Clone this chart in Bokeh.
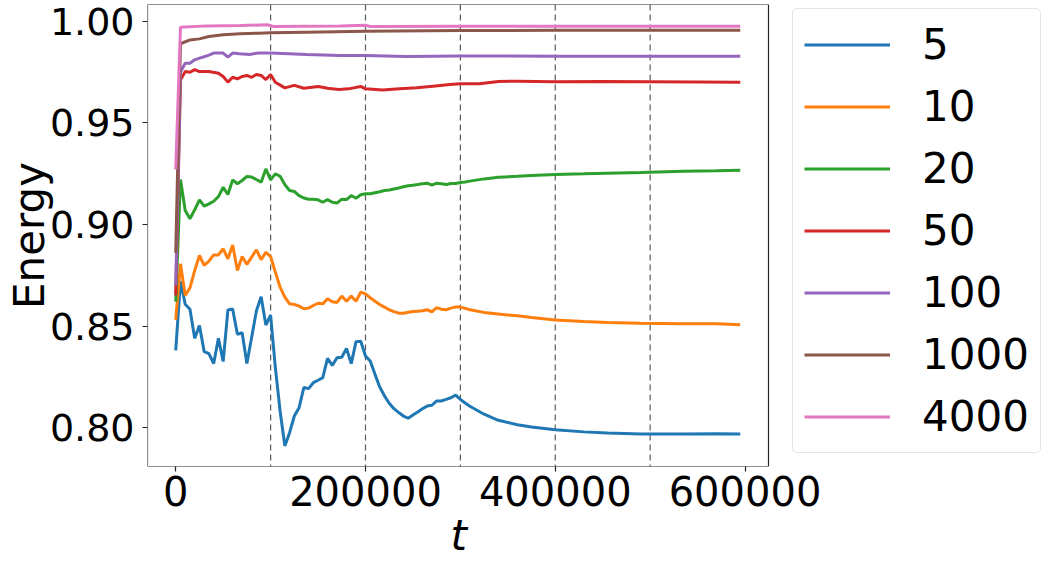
from bokeh.plotting import figure
from bokeh.models import (Range1d, FixedTicker, PrintfTickFormatter, Span,
                          Legend, LegendItem, BoxAnnotation, Title)
from bokeh.embed import file_html
from bokeh.resources import INLINE

# ---------------- data ----------------
sizes = ["5", "10", "20", "50", "100", "1000", "4000"]
colors = ["#1f77b4", "#ff7f0e", "#2ca02c", "#d62728", "#9467bd", "#8c564b", "#e377c2"]

t_fine = list(range(0, 315000, 5000))
t_tail = [325000, 340000, 360000, 375000, 400000, 430000, 455000, 490000, 535000, 570000, 595000]

e5_fine = [0.838, 0.872, 0.8607, 0.8582, 0.844, 0.8503, 0.8374, 0.8364, 0.8315, 0.844,
           0.8325, 0.8579, 0.8584, 0.8459, 0.8467, 0.8315, 0.8443, 0.8574, 0.8644, 0.8505,
           0.8554, 0.8295, 0.8082, 0.791, 0.7975, 0.8057, 0.8098, 0.8197, 0.8192, 0.8221,
           0.8233, 0.8246, 0.8341, 0.8306, 0.8344, 0.8346, 0.839, 0.8315, 0.8423, 0.8425,
           0.8352, 0.8328, 0.8262, 0.82, 0.8156, 0.812, 0.8093, 0.8074, 0.8057, 0.8046,
           0.8062, 0.8077, 0.8093, 0.8106, 0.811, 0.8131, 0.8131, 0.8139, 0.8147, 0.816,
           0.8139, 0.8121, 0.8105]
e5_tail = [0.8066, 0.8036, 0.8014, 0.8003, 0.7989, 0.7979, 0.7974, 0.7969, 0.7968, 0.797, 0.7969]

e10_fine = [0.853, 0.8806, 0.865, 0.8688, 0.8773, 0.8847, 0.8798, 0.8819, 0.885, 0.885,
            0.888, 0.8831, 0.8899, 0.8773, 0.8842, 0.8803, 0.8839, 0.8875, 0.8827, 0.8863,
            0.8842, 0.8765, 0.8691, 0.8642, 0.8609, 0.8606, 0.8598, 0.8585, 0.8588, 0.8601,
            0.8612, 0.8609, 0.8634, 0.8619, 0.8616, 0.8647, 0.8622, 0.8647, 0.8622, 0.8667,
            0.8658, 0.8639, 0.8622, 0.8606, 0.8593, 0.858, 0.8571, 0.8563, 0.8563, 0.8568,
            0.8571, 0.8573, 0.8575, 0.858, 0.857, 0.859, 0.8583, 0.858, 0.8588, 0.8594,
            0.8593, 0.8587, 0.858]
e10_tail = [0.8567, 0.8559, 0.855, 0.8542, 0.853, 0.8522, 0.8517, 0.8514, 0.8511, 0.8511, 0.8506]

e20_fine = [0.862, 0.9221, 0.9069, 0.9028, 0.9072, 0.9121, 0.909, 0.9101, 0.9114, 0.9137,
            0.9183, 0.9147, 0.9219, 0.92, 0.9216, 0.9236, 0.9233, 0.9221, 0.9208, 0.9273,
            0.9219, 0.9249, 0.9237, 0.9196, 0.9167, 0.9162, 0.9142, 0.913, 0.9124, 0.9124,
            0.9121, 0.9109, 0.9122, 0.9109, 0.9105, 0.9124, 0.9122, 0.9142, 0.9129, 0.9146,
            0.9151, 0.9151, 0.9156, 0.9161, 0.9167, 0.9169, 0.9174, 0.9179, 0.9185, 0.919,
            0.9193, 0.9196, 0.92, 0.9203, 0.9193, 0.9203, 0.92, 0.9196, 0.9201, 0.9201,
            0.9206, 0.9209, 0.9213]
e20_tail = [0.9224, 0.9232, 0.9237, 0.9241, 0.9246, 0.9249, 0.9252, 0.9256, 0.9262, 0.9264, 0.9267]

t50 = [0, 5000, 10000, 15000, 20000, 25000, 35000, 45000, 50000, 55000, 60000, 65000,
       70000, 75000, 80000, 85000, 90000, 95000, 100000, 105000, 115000, 125000, 135000,
       150000, 160000, 172000, 182000, 195000, 200000, 218000, 236000, 254000, 271000,
       289000, 300000, 320000, 340000, 360000, 400000, 450000, 500000, 550000, 595000]
e50 = [0.865, 0.971, 0.9752, 0.9749, 0.9762, 0.9752, 0.9752, 0.9744, 0.9728, 0.970,
       0.9724, 0.9716, 0.9728, 0.9733, 0.9724, 0.9738, 0.9733, 0.9713, 0.9738, 0.970,
       0.9672, 0.9684, 0.967, 0.9679, 0.967, 0.9664, 0.9667, 0.9679, 0.9667, 0.9662,
       0.9667, 0.9672, 0.968, 0.9688, 0.9692, 0.9692, 0.9703, 0.9705, 0.9702, 0.9703,
       0.9702, 0.9701, 0.970]

t100 = [0, 5000, 10000, 15000, 20000, 25000, 30000, 35000, 40000, 50000, 55000, 60000,
        67000, 78000, 87000, 100000, 138000, 173000, 200000, 243000, 300000, 400000,
        500000, 595000]
e100 = [0.870, 0.975, 0.9793, 0.9793, 0.981, 0.9818, 0.9825, 0.9833, 0.9843, 0.9843,
        0.9823, 0.9843, 0.984, 0.9836, 0.9844, 0.9844, 0.9836, 0.9831, 0.9831, 0.9826,
        0.9829, 0.9828, 0.9828, 0.9828]

t1000 = [0, 5000, 15000, 25000, 35000, 50000, 68000, 88000, 100000, 138000, 200000,
         300000, 400000, 500000, 595000]
e1000 = [0.886, 0.9889, 0.9908, 0.9913, 0.9925, 0.9933, 0.9938, 0.9941, 0.9943, 0.9946,
         0.9951, 0.9954, 0.9955, 0.9955, 0.9955]

t4000 = [0, 5000, 33000, 68000, 97000, 103000, 173000, 200000, 205000, 300000, 400000,
         500000, 595000]
e4000 = [0.927, 0.997, 0.9977, 0.9979, 0.9982, 0.9974, 0.9977, 0.998, 0.9974, 0.9975,
         0.9975, 0.9975, 0.9975]

vlines_t = [100000, 200000, 300000, 400000, 500000]
x_ticks = [0, 200000, 400000, 600000]
y_ticks = [0.80, 0.85, 0.90, 0.95, 1.00]

series_t = [t_fine + t_tail, t_fine + t_tail, t_fine + t_tail, t50, t100, t1000, t4000]
series_e = [e5_fine + e5_tail, e10_fine + e10_tail, e20_fine + e20_tail, e50, e100, e1000, e4000]

# axes box (matplotlib-like) and the wider canvas area that also holds the legend
x_lo, x_hi = -29750, 624750
x_canvas_hi = 916690

# ---------------- figure ----------------
FONT = "DejaVu Sans"
p = figure(width=1045, height=563, output_backend="svg", toolbar_location=None,
           x_range=Range1d(x_lo, x_canvas_hi), y_range=Range1d(0.78086, 1.00822),
           min_border_left=147, min_border_right=0, min_border_top=4,
           min_border_bottom=97, y_axis_label="Energy")
p.background_fill_color = "white"
p.border_fill_color = "white"
p.xgrid.visible = False
p.ygrid.visible = False
p.outline_line_color = None

p.add_layout(BoxAnnotation(left=x_lo, right=x_hi, fill_color=None, fill_alpha=0,
                           line_color="#222222", line_alpha=1.0, line_width=1.2,
                           level="annotation"))

for ax in (p.xaxis[0], p.yaxis[0]):
    ax.axis_line_color = None
    ax.major_tick_out = 5
    ax.major_tick_in = 0
    ax.minor_tick_out = 0
    ax.minor_tick_in = 0
    ax.major_tick_line_color = "#222222"
    ax.major_tick_line_width = 1.2
    ax.major_label_text_font = FONT
    ax.major_label_text_color = "black"
    ax.axis_label_text_font = FONT
    ax.axis_label_text_color = "black"
    ax.axis_label_text_font_size = "42px"

p.xaxis.ticker = FixedTicker(ticks=x_ticks)
p.xaxis.formatter = PrintfTickFormatter(format="%d")
p.xaxis.major_label_text_font_size = "40px"
p.xaxis.major_label_standoff = 4

p.yaxis.ticker = FixedTicker(ticks=y_ticks)
p.yaxis.formatter = PrintfTickFormatter(format="%.2f")
p.yaxis.major_label_text_font_size = "38px"
p.yaxis.major_label_standoff = 8
p.yaxis.axis_label_text_font_style = "normal"
p.yaxis.axis_label_standoff = -7

# x-axis label "t", centred under the axes box (not under the legend area)
p.add_layout(Title(text="t", align="left", offset=303, standoff=0,
                   text_font=FONT, text_font_size="42px", text_font_style="italic",
                   text_color="black"), "below")

for xv in vlines_t:
    p.add_layout(Span(location=xv, dimension="height", line_color="black",
                      line_alpha=0.65, line_width=1.2, line_dash="6 4", level="underlay"))

items = []
for name, col, tt, ee in zip(sizes, colors, series_t, series_e):
    r = p.line(tt, ee, line_color=col, line_width=3)
    items.append(LegendItem(label=name, renderers=[r]))

legend = Legend(items=items, location=(645, 13), orientation="vertical",
                padding=11, spacing=13, margin=0,
                glyph_width=86, glyph_height=49, label_height=49,
                label_standoff=32, label_text_font=FONT, label_text_font_size="42px",
                label_text_color="black", label_text_baseline="middle",
                border_line_color="#cccccc", border_line_width=1.2,
                background_fill_color="white", background_fill_alpha=0.8)
try:
    legend.border_radius = 5
except Exception:
    pass
p.add_layout(legend, "center")

open("out.html", "w").write(file_html(p, INLINE))
